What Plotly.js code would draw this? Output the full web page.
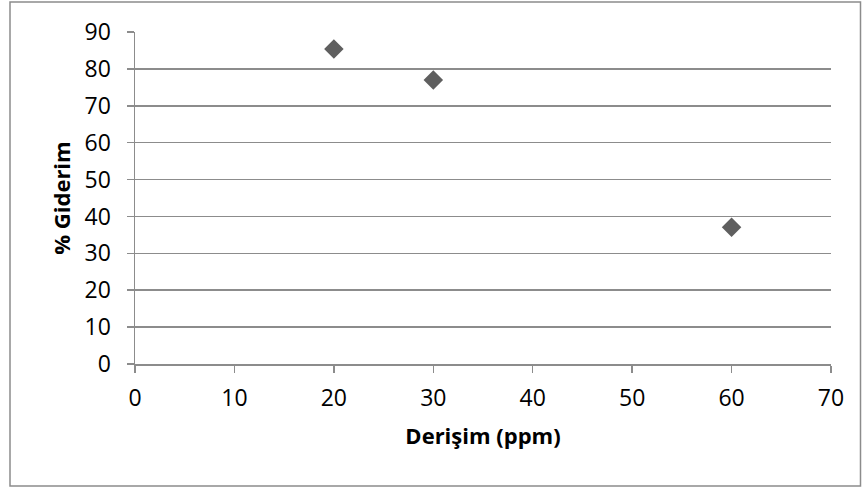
<!DOCTYPE html>
<html><head><meta charset="utf-8">
<script src="https://cdn.plot.ly/plotly-3.0.1.min.js"></script>
<style>html,body{margin:0;padding:0;background:#fff}#c{width:862px;height:488px}</style>
</head><body><div id="c"></div>
<script>
const concentration = [20, 30, 60];
const removal = [85.4, 77.0, 37.1];
const xTicks = [0, 10, 20, 30, 40, 50, 60, 70];
const yTicks = [0, 10, 20, 30, 40, 50, 60, 70, 80, 90];
const xTitle = 'Derişim (ppm)';
const yTitle = '% Giderim';

const font = 'Open Sans, Liberation Sans, sans-serif';
Plotly.newPlot('c', [{
  x: concentration, y: removal, type: 'scatter', mode: 'markers',
  marker: {symbol: 'diamond', size: 15, color: '#5f5f5f'},
  cliponaxis: false, hoverinfo: 'none'
}], {
  width: 862, height: 488,
  margin: {l: 135, r: 31, t: 32, b: 124},
  paper_bgcolor: '#fff', plot_bgcolor: '#fff',
  showlegend: false,
  font: {family: font, size: 23, color: '#000'},
  xaxis: {
    range: [0, 70], tickvals: xTicks, ticktext: xTicks.map(String),
    showgrid: false, zeroline: false, showline: true, linecolor: '#8c8c8c', linewidth: 1.5,
    ticks: 'outside', ticklen: 7, tickcolor: '#8c8c8c', tickwidth: 1.5,
    ticklabelstandoff: 6,
    tickfont: {family: font, size: 23},
    title: {text: '<b>' + xTitle + '</b>', font: {family: font, size: 22}, standoff: 16}
  },
  yaxis: {
    range: [0, 90], tickvals: yTicks, ticktext: yTicks.map(String),
    showgrid: true, gridcolor: '#8c8c8c', gridwidth: 1.5,
    zeroline: false, showline: true, linecolor: '#8c8c8c', linewidth: 1.5,
    ticks: 'outside', ticklen: 7, tickcolor: '#8c8c8c', tickwidth: 1.5,
    ticklabelstandoff: 11,
    tickfont: {family: font, size: 23},
    title: {text: '<b>' + yTitle + '</b>', font: {family: font, size: 22}, standoff: 8}
  },
  shapes: [{
    type: 'rect', xref: 'paper', yref: 'paper',
    x0: -125/696, x1: 725.5/696, y0: -122/332, y1: 362/332,
    line: {color: '#8c8c8c', width: 1.5}, fillcolor: 'rgba(0,0,0,0)', layer: 'below'
  }]
}, {staticPlot: true});
</script></body></html>
